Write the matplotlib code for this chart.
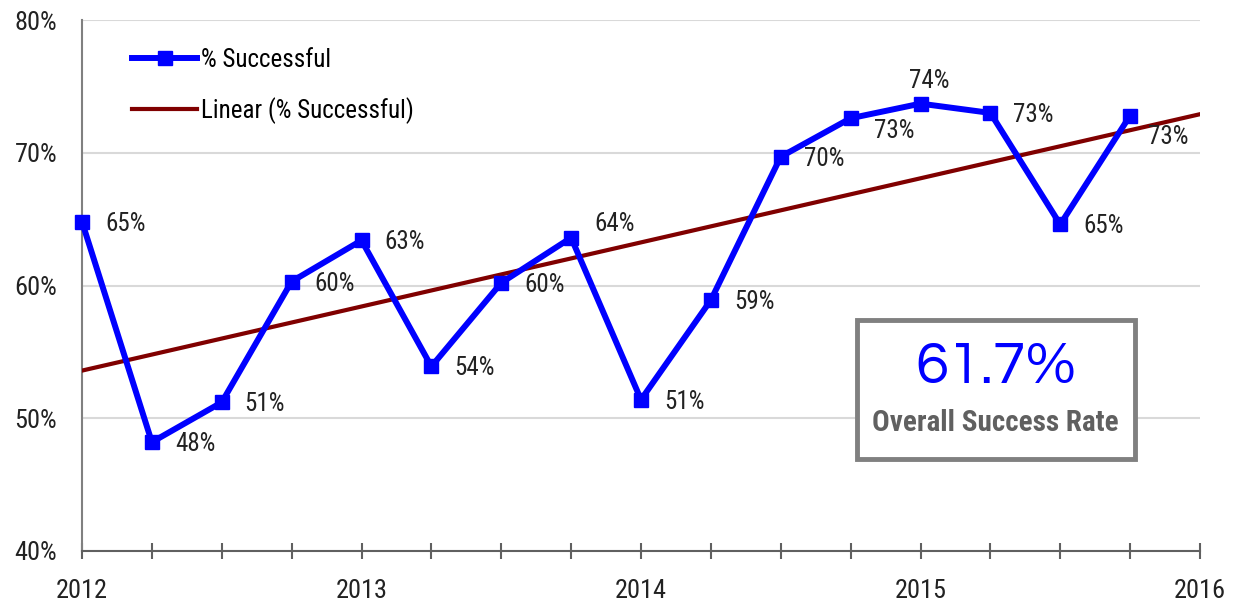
import numpy as np
import matplotlib
matplotlib.use("Agg")
import matplotlib.pyplot as plt
from matplotlib.patches import Rectangle

plt.rcParams['font.family'] = ['Roboto Condensed', 'DejaVu Sans']

# Data: quarterly success rate
quarters = np.arange(2012, 2016, 0.25)
success = [64.8, 48.2, 51.2, 60.3, 63.4, 53.9, 60.2, 63.6,
           51.4, 58.9, 69.7, 72.6, 73.7, 73.0, 64.6, 72.8]
labels = ['65%', '48%', '51%', '60%', '63%', '54%', '60%', '64%',
          '51%', '59%', '70%', '73%', '74%', '73%', '65%', '73%']
year_ticks = [2012, 2013, 2014, 2015, 2016]
overall = '61.7%'

# label offsets in pixels (dx, dy)
offsets = [(23, -2)] * 16
offsets[7] = (23, 14)
offsets[11] = (23, -13)
offsets[12] = (-11, 23)
offsets[15] = (18, -21)

fig = plt.figure(figsize=(12.34, 6.09), dpi=100)
ax = fig.add_axes([82 / 1234, 58 / 609, 1118 / 1234, 531 / 609])

# Linear trendline
slope, icpt = np.polyfit(quarters, success, 1)
tx = np.array([2012, 2016])
ax.plot(tx, slope * tx + icpt, color='#800000', lw=3, label='Linear (% Successful)', zorder=3)

ax.plot(quarters, success, color='#0000ff', lw=4.3, marker='s', markersize=10,
        label='% Successful', zorder=4, clip_on=False)

for x, y, t, (dx, dy) in zip(quarters, success, labels, offsets):
    ax.annotate(t, (x, y), xytext=(dx, dy), textcoords='offset pixels',
                ha='left', va='center', fontsize=18, color='#222222')

ax.set_xlim(2012, 2016)
ax.set_ylim(40, 80)
ax.set_yticks([40, 50, 60, 70, 80])
ax.set_yticklabels([f'{v}%' for v in [40, 50, 60, 70, 80]])
ax.set_xticks(np.arange(2012, 2016.01, 0.25), minor=True)
ax.set_xticks(year_ticks)
ax.set_xticklabels([str(y) for y in year_ticks])
ax.tick_params(axis='y', length=0, pad=18, labelsize=19, labelcolor='#222222')
ax.tick_params(axis='x', which='both', direction='inout', length=12, width=1.5,
               color='#606060', pad=14, labelsize=19, labelcolor='#222222')

ax.grid(axis='y', color='#d9d9d9', lw=1.5)
ax.set_axisbelow(True)
for s in ['top', 'right']:
    ax.spines[s].set_visible(False)
ax.spines['left'].set_color('#808080')
ax.spines['bottom'].set_color('#606060')
ax.spines['left'].set_linewidth(1.5)
ax.spines['bottom'].set_linewidth(1.5)

handles, lbls = ax.get_legend_handles_labels()
ax.legend(handles[::-1], lbls[::-1], loc='upper left', bbox_to_anchor=(0.025, 0.99),
          frameon=False, fontsize=18, handlelength=2.6, handletextpad=0.15,
          labelspacing=1.0)

# Overall success rate box
ax.add_patch(Rectangle((0.693, 0.173), 0.249, 0.262, transform=ax.transAxes,
                       facecolor='white', edgecolor='#808080', lw=3.5, zorder=5))
ax.text(0.817, 0.345, overall, transform=ax.transAxes, ha='center', va='center',
        fontsize=43, color='#0000ff', family='Questrial', zorder=6)
ax.text(0.817, 0.241, 'Overall Success Rate', transform=ax.transAxes, ha='center',
        va='center', fontsize=21, color='#606060', fontweight='semibold', zorder=6)

fig.savefig('out.png', dpi=100)
